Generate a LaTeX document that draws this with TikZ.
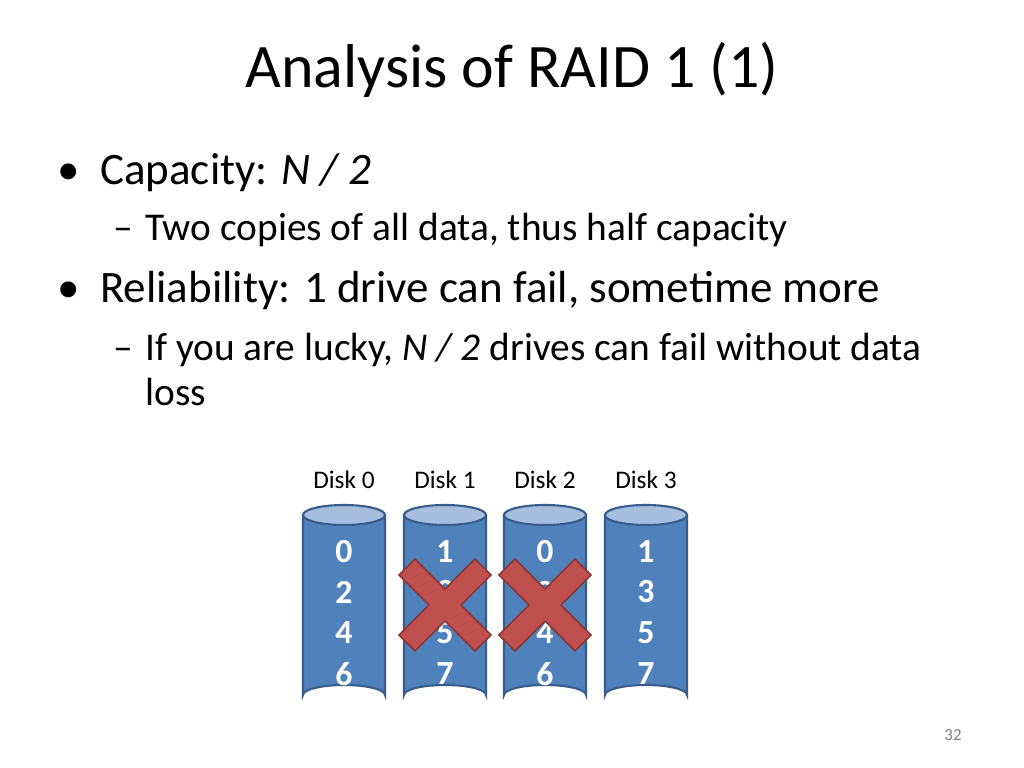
\documentclass[tikz,border=0pt]{standalone}
\usepackage{fontspec}
\setmainfont{Carlito}
\definecolor{diskblue}{HTML}{4F81BD}
\definecolor{diskedge}{HTML}{385D8A}
\definecolor{disktop}{HTML}{A7BFDE}
\definecolor{failred}{HTML}{C0504D}
\definecolor{failedge}{HTML}{8C3836}
\tikzset{
  lvlone/.style={anchor=base west,font=\fontsize{32}{38}\selectfont,inner sep=0pt},
  lvltwo/.style={anchor=base west,font=\fontsize{28}{34}\selectfont,inner sep=0pt},
  disklabel/.style={font=\fontsize{18}{22}\selectfont,inner sep=0pt},
  blockno/.style={font=\fontsize{24}{28}\selectfont\bfseries,text=white,inner sep=0pt},
}
\newcommand{\diskcyl}[2]{% x, name
  \fill[diskblue,draw=diskedge,line width=1.5pt] (#1-41,515) -- (#1-41,695) arc[start angle=180,end angle=360,x radius=41,y radius=10] -- (#1+41,515) -- cycle;
  \fill[disktop,draw=diskedge,line width=1.5pt] (#1,515) ellipse[x radius=41,y radius=10];
  \coordinate (#2) at (#1,515);
}
\newcommand{\failmark}[2]{% x, y
  \fill[failred,draw=failedge,line width=1.2pt,shift={(#1,#2)}]
    (-46,-30) -- (-30,-46) -- (0,-16) -- (30,-46) -- (46,-30) -- (16,0) -- (46,30) -- (30,46)
    -- (0,16) -- (-30,46) -- (-46,30) -- (-16,0) -- cycle;
}
\begin{document}
\begin{tikzpicture}[x=0.025cm,y=-0.025cm]
\useasboundingbox (0,0) rectangle (1024,768);
\node[font=\fontsize{44}{52}\selectfont,inner sep=0pt] (title) at (512,70) {Analysis of RAID 1 (1)};
% bullets
\node[lvlone] (b1) at (57,185) {•};
\node[lvlone] (t1) at (100,185) {Capacity: \textit{N / 2}};
\node[lvltwo] (d1) at (113,240) {–};
\node[lvltwo] (s1) at (145,240) {Two copies of all data, thus half capacity};
\node[lvlone] (b2) at (57,302) {•};
\node[lvlone] (t2) at (100,302) {Reliability: 1 drive can fail, sometime more};
\node[lvltwo] (d2) at (113,360) {–};
\node[lvltwo] (s2) at (145,360) {If you are lucky, \textit{N / 2} drives can fail without data};
\node[lvltwo] (s3) at (145,405) {loss};
% disks
\foreach \x/\n/\a/\b/\c/\d in {344/0/0/2/4/6, 445/1/1/3/5/7, 545/2/0/2/4/6, 646/3/1/3/5/7}{
  \diskcyl{\x}{disk\n}
  \node[disklabel] (lbl\n) at (\x,480) {Disk \n};
  \node[blockno] at (\x,552) {\a};
  \node[blockno] at (\x,592) {\b};
  \node[blockno] at (\x,633) {\c};
  \node[blockno] at (\x,674) {\d};
}
\failmark{445}{605}
\failmark{545}{605}
\node[font=\fontsize{12}{14}\selectfont,text=gray,inner sep=0pt] (page) at (953,735) {32};
\end{tikzpicture}
\end{document}
